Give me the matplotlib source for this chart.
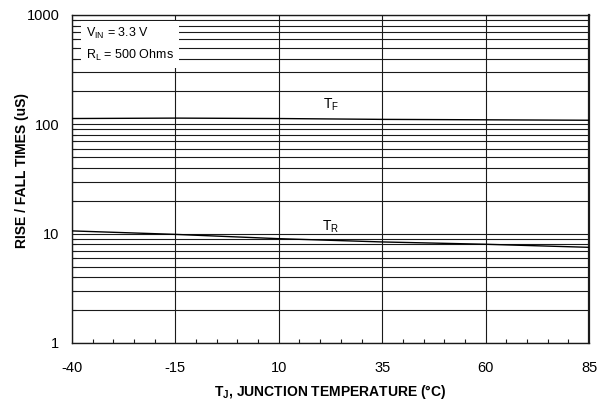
import matplotlib.pyplot as plt
from matplotlib.ticker import FixedLocator, LogLocator, NullFormatter, FixedFormatter

plt.rcParams['font.family'] = ['Liberation Sans', 'DejaVu Sans']
plt.rcParams['axes.unicode_minus'] = False

temps = [-40, -15, 10, 35, 60, 85]
t_fall = [113, 114, 113, 111, 110, 109]
t_rise = [10.6, 9.85, 9.0, 8.4, 8.0, 7.5]
x_ticks = [-40, -15, 10, 35, 60, 85]
y_ticks = [1, 10, 100, 1000]

grid_col = "#1a1a1a"

fig = plt.figure(figsize=(6.09, 4.08), dpi=100)
ax = fig.add_axes([72 / 609, 1 - 343 / 408, (589 - 72) / 609, (343 - 15) / 408])

ax.set_yscale("log")
ax.set_xlim(-40, 85)
ax.set_ylim(1, 1000)

ax.plot(temps, t_fall, color="black", lw=1.0, zorder=5)
ax.plot(temps, t_rise, color="black", lw=1.0, zorder=5)

ax.xaxis.set_major_locator(FixedLocator(x_ticks))
ax.xaxis.set_minor_locator(FixedLocator(range(-40, 86, 5)))
ax.yaxis.set_major_locator(FixedLocator(y_ticks))
ax.yaxis.set_major_formatter(FixedFormatter([str(v) for v in y_ticks]))
ax.yaxis.set_minor_locator(LogLocator(base=10, subs=range(2, 10)))
ax.yaxis.set_minor_formatter(NullFormatter())

ax.grid(which="major", axis="x", color=grid_col, lw=0.8)
ax.grid(which="both", axis="y", color=grid_col, lw=0.8)

ax.tick_params(which="major", length=0, labelsize=10.5)
ax.tick_params(axis="x", which="major", pad=13)
ax.tick_params(axis="y", which="major", pad=9)
ax.tick_params(which="minor", direction="in", length=3, width=0.8, color=grid_col)
for s in ax.spines.values():
    s.set_color(grid_col)
    s.set_linewidth(1.0)
ax.spines["right"].set_linewidth(1.6)

ax.set_xlabel("T$_\\mathregular{J}$, JUNCTION TEMPERATURE (°C)", fontsize=10, fontweight="bold", labelpad=6)
ax.set_ylabel("RISE / FALL TIMES (uS)", fontsize=10, fontweight="bold")
ax.yaxis.set_label_coords(-0.083, 0.527)

ax.text(-36.6, 537, "V$_\\mathregular{IN}$ = 3.3 V\nR$_\\mathregular{L}$ = 500 Ohms", fontsize=9,
        va="center", ha="left", linespacing=1.55, zorder=6,
        bbox=dict(facecolor="white", edgecolor="none", pad=4))

ax.text(22.6, 150, "T$_\\mathregular{F}$", fontsize=10, ha="center", va="center", zorder=6)
ax.text(22.6, 11.6, "T$_\\mathregular{R}$", fontsize=10, ha="center", va="center", zorder=6)

fig.savefig("out.png", dpi=100)
